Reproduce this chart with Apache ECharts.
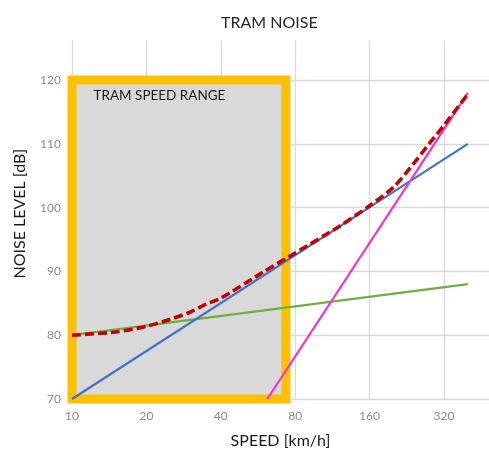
<!DOCTYPE html>
<html>
<head>
<meta charset="utf-8">
<script src="https://cdn.jsdelivr.net/npm/echarts@6/dist/echarts.min.js"></script>
<style>
html,body{margin:0;padding:0;background:#fff;}
#c{width:489px;height:453px;}
</style>
</head>
<body>
<div id="c"></div>
<script>
// ---- data (speed in km/h, level in dB) ----
const xTickSpeeds = [10, 20, 40, 80, 160, 320];
const yTicks = [70, 80, 90, 100, 110, 120];

const rollingSpeed = [10, 400];
const rollingLevel = [70, 110];

const tractionSpeed = [10, 400];
const tractionLevel = [80, 88];

const aeroSpeed = [61.7, 400];
const aeroLevel = [70, 118];

const totalSpeed = [10, 15, 20, 25, 30, 35, 40, 60, 80, 120, 160, 200, 240, 280, 320, 400];
const totalLevel = [80.0, 80.5, 81.4, 82.5, 83.6, 84.9, 85.8, 90.0, 92.9, 97.0, 100.3, 103.2, 106.8, 110.1, 112.9, 117.8];

const rangeSpeed = [10, 73.4];
const rangeLevel = [70, 120];

// axis extents
const xMaxSpeed = 487;
const yMax = 126.2;

// The log2 axis is expressed in units of 10 km/h so ticks fall on 10,20,40...
const UNIT = 10;
const pts = (xs, ys) => xs.map((x, i) => [x / UNIT, ys[i]]);

const FONT = 'Lato, "Open Sans", sans-serif';
const chart = echarts.init(document.getElementById('c'), null, {renderer: 'canvas'});
chart.setOption({
  animation: false,
  backgroundColor: '#ffffff',
  title: {
    text: 'TRAM NOISE',
    left: 216, top: 10,
    textStyle: {fontFamily: FONT, fontSize: 16, fontWeight: 'normal', color: '#262626'}
  },
  grid: {left: 72, right: 0, top: 40.5, bottom: 54, containLabel: false, outerBoundsMode: 'none'},
  xAxis: {
    type: 'log', logBase: 2,
    min: xTickSpeeds[0] / UNIT, max: xMaxSpeed / UNIT,
    name: 'SPEED [km/h]', nameLocation: 'middle', nameGap: 34,
    nameTextStyle: {fontFamily: FONT, fontSize: 16, color: '#1a1a1a'},
    axisLine: {show: false}, axisTick: {show: false},
    axisLabel: {
      fontFamily: FONT, fontSize: 12, color: '#8c8c8c', margin: 11,
      showMaxLabel: false,
      formatter: v => String(Math.round(v * UNIT))
    },
    splitLine: {show: true, showMaxLine: false, lineStyle: {color: '#d9d9d9', width: 1.3}}
  },
  yAxis: {
    type: 'value',
    min: yTicks[0], max: yMax, interval: 10,
    name: 'NOISE LEVEL [dB]', nameLocation: 'middle', nameGap: 44, nameRotate: 90,
    nameTextStyle: {fontFamily: FONT, fontSize: 16, color: '#1a1a1a', padding: [0, 0, 0, 12]},
    axisLine: {show: false}, axisTick: {show: false},
    axisLabel: {
      fontFamily: FONT, fontSize: 12, color: '#8c8c8c', margin: 11,
      showMaxLabel: false
    },
    splitLine: {show: true, showMaxLine: false, lineStyle: {color: '#d9d9d9', width: 1.3}}
  },
  series: [
    {
      name: 'range', type: 'line', data: [], silent: true, z: 1,
      markArea: {
        silent: true,
        itemStyle: {color: '#d9d9d9', borderColor: '#ffc000', borderWidth: 9},
        label: {
          show: true, position: [26, 13],
          fontFamily: FONT, fontSize: 13.5, color: '#1a1a1a'
        },
        data: [[
          {name: 'TRAM SPEED RANGE', coord: [rangeSpeed[0] / UNIT, rangeLevel[1]]},
          {coord: [rangeSpeed[1] / UNIT, rangeLevel[0]]}
        ]]
      }
    },
    {
      name: 'traction', type: 'line', data: pts(tractionSpeed, tractionLevel),
      showSymbol: false, z: 3, lineStyle: {color: '#70ad47', width: 2.2}
    },
    {
      name: 'rolling', type: 'line', data: pts(rollingSpeed, rollingLevel),
      showSymbol: false, z: 3, lineStyle: {color: '#4472c4', width: 2.2}
    },
    {
      name: 'aero', type: 'line', data: pts(aeroSpeed, aeroLevel),
      showSymbol: false, z: 3, lineStyle: {color: '#f533c4', width: 2.2}
    },
    {
      name: 'total', type: 'line', data: pts(totalSpeed, totalLevel),
      showSymbol: false, smooth: 0.25, z: 4,
      lineStyle: {color: '#c00000', width: 3.6, type: [9, 4]}
    }
  ]
});
</script>
</body>
</html>
